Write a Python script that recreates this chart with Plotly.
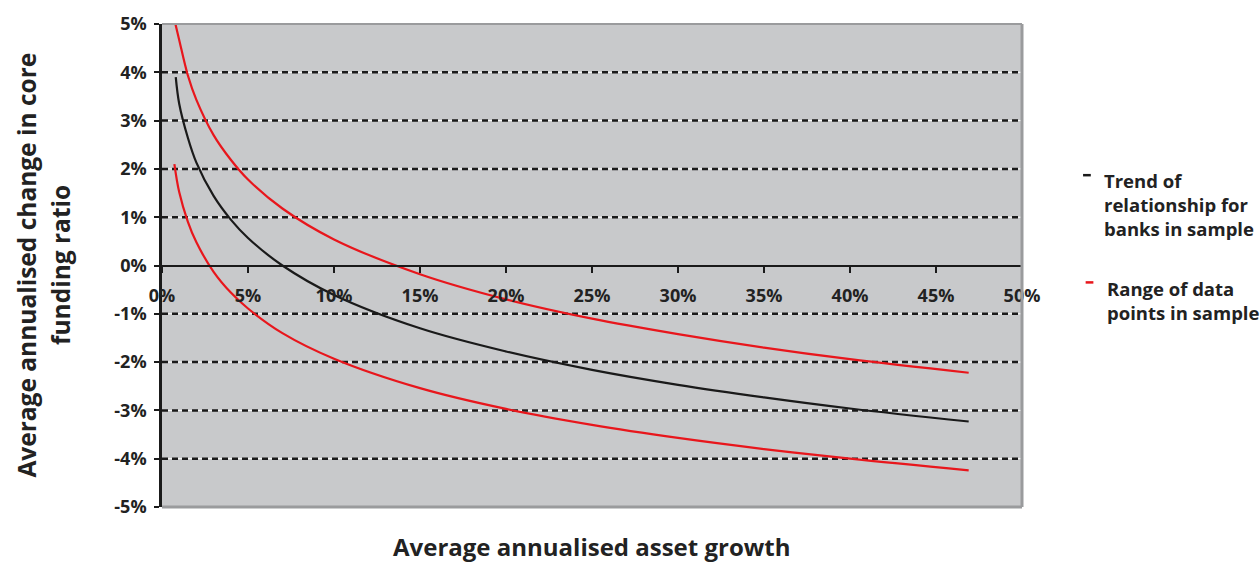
import plotly.graph_objects as go

# ---- data ----
growth_trend = [0.8, 1, 1.5, 2, 3, 4, 5, 7, 10, 15, 20, 25, 30, 35, 40, 46.9]
trend = [3.9, 3.35, 2.65, 2.13, 1.44, 0.95, 0.57, 0.0, -0.61, -1.3, -1.78, -2.16, -2.47, -2.73, -2.96, -3.23]

growth_upper = [0.78, 1, 1.5, 2, 3, 4, 5, 7, 10, 15, 20, 25, 30, 35, 40, 46.9]
upper = [5.0, 4.67, 3.94, 3.43, 2.7, 2.19, 1.78, 1.18, 0.54, -0.18, -0.7, -1.1, -1.42, -1.7, -1.94, -2.22]

growth_lower = [0.72, 1, 1.5, 2, 3, 4, 5, 7, 10, 15, 20, 25, 30, 35, 40, 46.9]
lower = [2.1, 1.52, 0.91, 0.48, -0.13, -0.56, -0.89, -1.4, -1.93, -2.54, -2.97, -3.3, -3.57, -3.8, -4.0, -4.24]

x_ticks = [0, 5, 10, 15, 20, 25, 30, 35, 40, 45, 50]
x_ticklabels = [f"{v}%" for v in x_ticks]
y_ticks = [5, 4, 3, 2, 1, 0, -1, -2, -3, -4, -5]
y_ticklabels = [f"{v}%" for v in y_ticks]
dashed_grid = [4, 3, 2, 1, -1, -2, -3, -4]

BLACK = "#1a1a1a"
RED = "#e8161c"
FONT = "Open Sans"
TXT = "#222222"

fig = go.Figure()
fig.add_trace(go.Scatter(x=growth_upper, y=upper, mode="lines",
                         line=dict(color=RED, width=2.2, shape="spline", smoothing=1.0),
                         name="Range of data points in sample", showlegend=False))
fig.add_trace(go.Scatter(x=growth_lower, y=lower, mode="lines",
                         line=dict(color=RED, width=2.2, shape="spline", smoothing=1.0),
                         name="Range of data points in sample", showlegend=False))
fig.add_trace(go.Scatter(x=growth_trend, y=trend, mode="lines",
                         line=dict(color=BLACK, width=2.2, shape="spline", smoothing=1.0),
                         name="Trend of relationship for banks in sample", showlegend=False))

shapes = []
for v in dashed_grid:
    shapes.append(dict(type="line", xref="paper", yref="y", x0=0, x1=1, y0=v, y1=v,
                       line=dict(color="white", width=1), layer="between"))
    shapes.append(dict(type="line", xref="paper", yref="y", x0=0, x1=1, y0=v, y1=v,
                       line=dict(color=BLACK, width=2.5, dash="6px,4px"), layer="between"))
# gray frame (top, right, bottom)
for (x0, y0, x1, y1, w) in [(0, 1, 1, 1, 2), (1, 0, 1, 1, 3), (0, 0, 1, 0, 3)]:
    shapes.append(dict(type="line", xref="paper", yref="paper", x0=x0, y0=y0, x1=x1, y1=y1,
                       line=dict(color="#9a9b9d", width=w), layer="above"))
# legend keys
shapes.append(dict(type="line", xref="paper", yref="paper", x0=1.071, x1=1.080, y0=0.687, y1=0.687,
                   line=dict(color=BLACK, width=2.5)))
shapes.append(dict(type="line", xref="paper", yref="paper", x0=1.074, x1=1.083, y0=0.465, y1=0.465,
                   line=dict(color=RED, width=2.5)))

annotations = [
    dict(text="<b>Trend of<br>relationship for<br>banks in sample</b>", xref="paper", yref="paper",
         x=1.093, y=0.705, xanchor="left", yanchor="top", align="left", showarrow=False,
         font=dict(family=FONT, size=18.5, color=TXT)),
    dict(text="<b>Range of data<br>points in sample</b>", xref="paper", yref="paper",
         x=1.097, y=0.483, xanchor="left", yanchor="top", align="left", showarrow=False,
         font=dict(family=FONT, size=18.5, color=TXT)),
    dict(text="<b>Average annualised asset growth</b>", xref="paper", yref="paper",
         x=0.5, y=-0.082, xanchor="center", yanchor="middle", showarrow=False,
         font=dict(family=FONT, size=24, color=TXT)),
    dict(text="<b>Average annualised change in core</b>", xref="paper", yref="paper",
         x=-0.158, y=0.5, xanchor="center", yanchor="middle", textangle=-90, showarrow=False,
         font=dict(family=FONT, size=24.5, color=TXT)),
    dict(text="<b>funding ratio</b>", xref="paper", yref="paper",
         x=-0.118, y=0.5, xanchor="center", yanchor="middle", textangle=-90, showarrow=False,
         font=dict(family=FONT, size=24.5, color=TXT)),
]

fig.update_layout(
    width=1260, height=563,
    margin=dict(l=162, r=238, t=24, b=56),
    paper_bgcolor="white", plot_bgcolor="#c8c9cb",
    font=dict(family=FONT, color=TXT),
    shapes=shapes, annotations=annotations,
    xaxis=dict(range=[0, 50], tickvals=x_ticks, ticktext=x_ticklabels,
               anchor="free", position=0.5, showgrid=False, zeroline=False,
               showline=True, linecolor=BLACK, linewidth=2,
               ticks="outside", ticklen=6, tickwidth=2, tickcolor=BLACK,
               ticklabelstandoff=8,
               tickfont=dict(family=FONT, size=18, weight=700, color=TXT)),
    yaxis=dict(range=[-5, 5], tickvals=y_ticks, ticktext=y_ticklabels,
               showgrid=False, zeroline=False,
               showline=True, linecolor=BLACK, linewidth=2.5,
               ticks="outside", ticklen=5, tickwidth=2, tickcolor=BLACK,
               ticklabelstandoff=4,
               tickfont=dict(family=FONT, size=18, weight=700, color=TXT)),
)

fig.write_html("out.html", config={"displayModeBar": False},
               post_script="document.body.style.margin='0';document.body.style.overflow='hidden';")
